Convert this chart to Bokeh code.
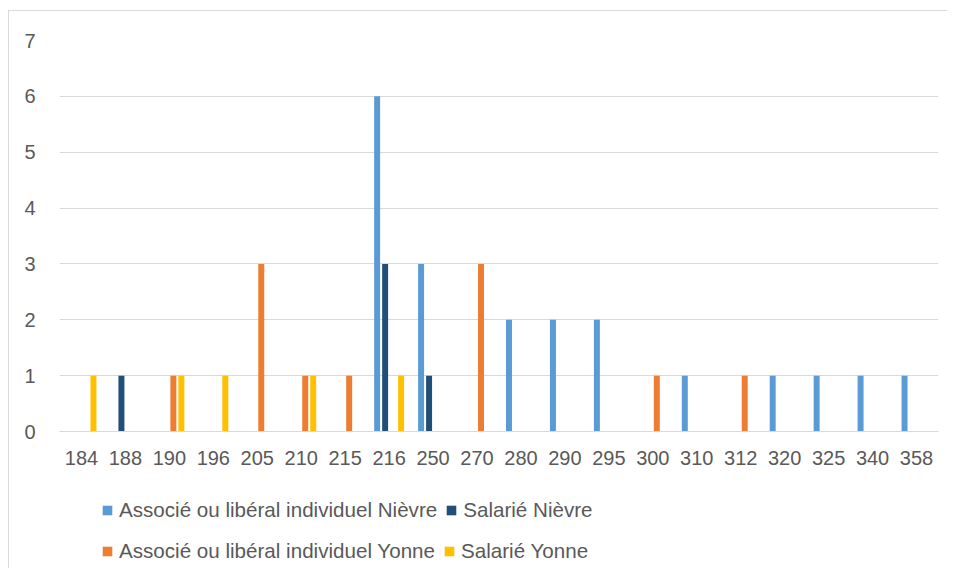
from bokeh.plotting import figure
from bokeh.layouts import column
from bokeh.models import FactorRange, Range1d, FixedTicker, Legend, LegendItem, ColumnDataSource
from bokeh.transform import dodge
from bokeh.embed import file_html
from bokeh.resources import INLINE

categories = ["184", "188", "190", "196", "205", "210", "215", "216", "250", "270",
              "280", "290", "295", "300", "310", "312", "320", "325", "340", "358"]
assoc_nievre = [0, 0, 0, 0, 0, 0, 0, 6, 3, 0, 2, 2, 2, 0, 1, 0, 1, 1, 1, 1]
salarie_nievre = [0, 1, 0, 0, 0, 0, 0, 3, 1, 0, 0, 0, 0, 0, 0, 0, 0, 0, 0, 0]
assoc_yonne = [0, 0, 1, 0, 3, 1, 1, 0, 0, 3, 0, 0, 0, 1, 0, 1, 0, 0, 0, 0]
salarie_yonne = [1, 0, 1, 1, 0, 1, 0, 1, 0, 0, 0, 0, 0, 0, 0, 0, 0, 0, 0, 0]
series_names = ["Associé ou libéral individuel Nièvre", "Salarié Nièvre",
                "Associé ou libéral individuel Yonne", "Salarié Yonne"]
y_ticks = [0, 1, 2, 3, 4, 5, 6, 7]

colors = ["#5B9BD5", "#1F4E79", "#ED7D31", "#FFC000"]
FONT = "Liberation Sans"
TXT = "#595959"
GRID = "#D9D9D9"

src = ColumnDataSource(dict(cat=categories, a=assoc_nievre, b=salarie_nievre,
                            c=assoc_yonne, d=salarie_yonne))
offsets = [-0.2727, -0.0909, 0.0909, 0.2727]
cols = ["a", "b", "c", "d"]

# ---- main chart ----
xr = FactorRange(*categories, range_padding=0)
p = figure(x_range=xr, y_range=Range1d(0, 7),
           width=938, height=465, output_backend="svg", toolbar_location=None,
           min_border_left=50, min_border_right=9, min_border_top=29,
           min_border_bottom=45)
p.outline_line_color = None

for col, off, colr in zip(cols, offsets, colors):
    p.vbar(x=dodge("cat", off, range=xr), top=col, width=0.136,
           source=src, fill_color=colr, line_color=None)

p.xgrid.grid_line_color = None
p.ygrid.grid_line_color = GRID
p.ygrid.grid_line_width = 1
p.yaxis.ticker = FixedTicker(ticks=y_ticks)

for ax in (p.xaxis[0], p.yaxis[0]):
    ax.major_tick_line_color = None
    ax.minor_tick_line_color = None
    ax.major_label_text_font = FONT
    ax.major_label_text_font_size = "20px"
    ax.major_label_text_color = TXT
p.yaxis.axis_line_color = None
p.yaxis.major_label_standoff = 18
p.xaxis.axis_line_color = GRID
p.xaxis.major_label_standoff = 13

# ---- legend panel (its frame is aligned with the chart frame) ----
pl = figure(x_range=xr, y_range=Range1d(100, 101),
            width=938, height=92, output_backend="svg", toolbar_location=None,
            min_border_left=50, min_border_right=9, min_border_top=0,
            min_border_bottom=0)
pl.outline_line_color = None
pl.xaxis.visible = False
pl.yaxis.visible = False
pl.xgrid.visible = False
pl.ygrid.visible = False

leg_rs = [pl.vbar(x=dodge("cat", off, range=xr), top=col, width=0.136, source=src,
                  fill_color=c, line_color=None)
          for col, off, c in zip(cols, offsets, colors)]

def make_legend(idx, loc):
    items = [LegendItem(label=series_names[i], renderers=[leg_rs[i]]) for i in idx]
    return Legend(items=items, orientation="horizontal", location=loc,
                  border_line_color=None, background_fill_alpha=0,
                  padding=0, margin=0, glyph_width=12, glyph_height=12,
                  label_standoff=6, spacing=8, label_height=20,
                  label_text_font=FONT, label_text_font_size="20.6px",
                  label_text_color=TXT)

pl.add_layout(make_legend([0, 1], (42, 46)), "center")
pl.add_layout(make_legend([2, 3], (42, 5)), "center")

layout = column(p, pl, spacing=0)
layout.margin = (10, 0, 0, 8)
layout.styles = {"border-left": "1px solid #D9D9D9", "border-top": "1px solid #D9D9D9"}

open("out.html", "w").write(file_html(layout, INLINE))
